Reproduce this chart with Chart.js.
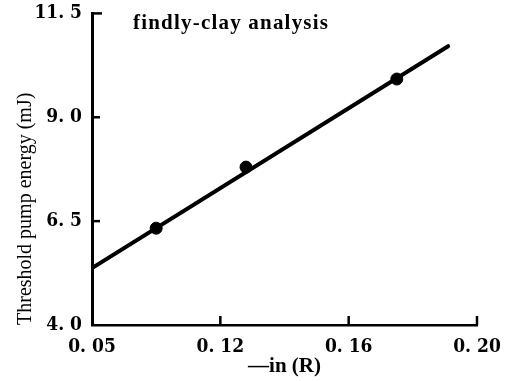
<!DOCTYPE html>
<html>
<head>
<meta charset="utf-8">
<style>
  html, body { margin: 0; padding: 0; background: #fff; }
  #wrap { width: 510px; height: 381px; }
</style>
<script src="https://cdn.jsdelivr.net/npm/chart.js@4/dist/chart.umd.min.js"></script>
</head>
<body>
<div id="wrap"><canvas id="chart"></canvas></div>
<script>
// measured points: -ln(R) vs threshold pump energy (mJ)
const lossValues = [0.100, 0.128, 0.175];
const energyValues = [6.33, 7.80, 9.92];

// fitted straight line (Findlay-Clay)
const fitLoss = [0.080, 0.191];
const fitEnergy = [5.37, 10.71];

// the printed ticks are evenly spaced; first one is printed as 0.05
const xTickLabels = ['0. 05', '0. 12', '0. 16', '0. 20'];
const yTickLabels = ['4. 0', '6. 5', '9. 0', '11. 5'];

const titleText = 'findly-clay analysis';
const xTitle = '\u2014in (R)';
const yTitle = 'Threshold pump energy (mJ)';

const serif = '"Liberation Serif", "DejaVu Serif", serif';
const tickFont = '"DejaVu Serif Condensed", "DejaVu Serif", serif';

const toPoints = (xs, ys) => xs.map((x, i) => ({ x, y: ys[i] }));

// small tick marks pointing into the plot, plus the caption inside the frame
const innerTicks = {
  id: 'innerTicks',
  afterDraw(chart) {
    const { ctx, chartArea, scales: { x, y } } = chart;
    ctx.save();
    ctx.strokeStyle = '#000';
    ctx.lineWidth = 2.5;
    x.ticks.forEach((t, i) => {
      if (i === 0) return;
      const px = x.getPixelForValue(t.value);
      ctx.beginPath();
      ctx.moveTo(px, chartArea.bottom);
      ctx.lineTo(px, chartArea.bottom - 9);
      ctx.stroke();
    });
    y.ticks.forEach((t, i) => {
      if (i === 0) return;
      const py = y.getPixelForValue(t.value);
      ctx.beginPath();
      ctx.moveTo(chartArea.left, py);
      ctx.lineTo(chartArea.left + (i === y.ticks.length - 1 ? 10 : 8), py);
      ctx.stroke();
    });
    ctx.fillStyle = '#000';
    ctx.font = 'bold 21px ' + serif;
    ctx.letterSpacing = '1.2px';
    ctx.textBaseline = 'alphabetic';
    ctx.fillText(titleText, chartArea.left + 41, chartArea.top + 16);
    ctx.restore();
  }
};

new Chart(document.getElementById('chart'), {
  type: 'scatter',
  data: {
    datasets: [
      {
        label: 'measured',
        data: toPoints(lossValues, energyValues),
        backgroundColor: '#000',
        borderColor: '#000',
        pointRadius: 6,
        order: 0,
      },
      {
        label: 'fit',
        data: toPoints(fitLoss, fitEnergy),
        showLine: true,
        borderColor: '#000',
        borderWidth: 4,
        borderCapStyle: 'round',
        pointRadius: 0,
        order: 1,
      },
    ],
  },
  options: {
    responsive: true,
    maintainAspectRatio: false,
    animation: false,
    layout: { padding: { top: 12, right: 33, left: 0, bottom: 0 } },
    plugins: {
      legend: { display: false },
      tooltip: { enabled: false },
    },
    scales: {
      x: {
        type: 'linear',
        min: 0.08,
        max: 0.20,
        afterFit: (s) => { s.height = 56; },
        grid: { display: false },
        border: { display: true, color: '#000', width: 2.5 },
        ticks: {
          stepSize: 0.04,
          color: '#000',
          padding: 3,
          font: { family: tickFont, size: 19, weight: 'bold' },
          callback: (v, i) => xTickLabels[i],
        },
        title: {
          display: true,
          text: xTitle,
          color: '#000',
          font: { family: serif, size: 21, weight: 'bold' },
          padding: { top: 0, bottom: 2 },
        },
      },
      y: {
        type: 'linear',
        min: 4,
        max: 11.5,
        afterFit: (s) => { s.width = 92; },
        grid: { display: false },
        border: { display: true, color: '#000', width: 3 },
        ticks: {
          stepSize: 2.5,
          color: '#000',
          padding: 2,
          font: { family: tickFont, size: 19, weight: 'bold' },
          callback: (v, i) => yTickLabels[i],
        },
        title: {
          display: true,
          text: yTitle,
          align: 'start',
          color: '#000',
          font: { family: serif, size: 20 },
          padding: { top: 14, bottom: 4 },
        },
      },
    },
  },
  plugins: [innerTicks],
});
</script>
</body>
</html>
